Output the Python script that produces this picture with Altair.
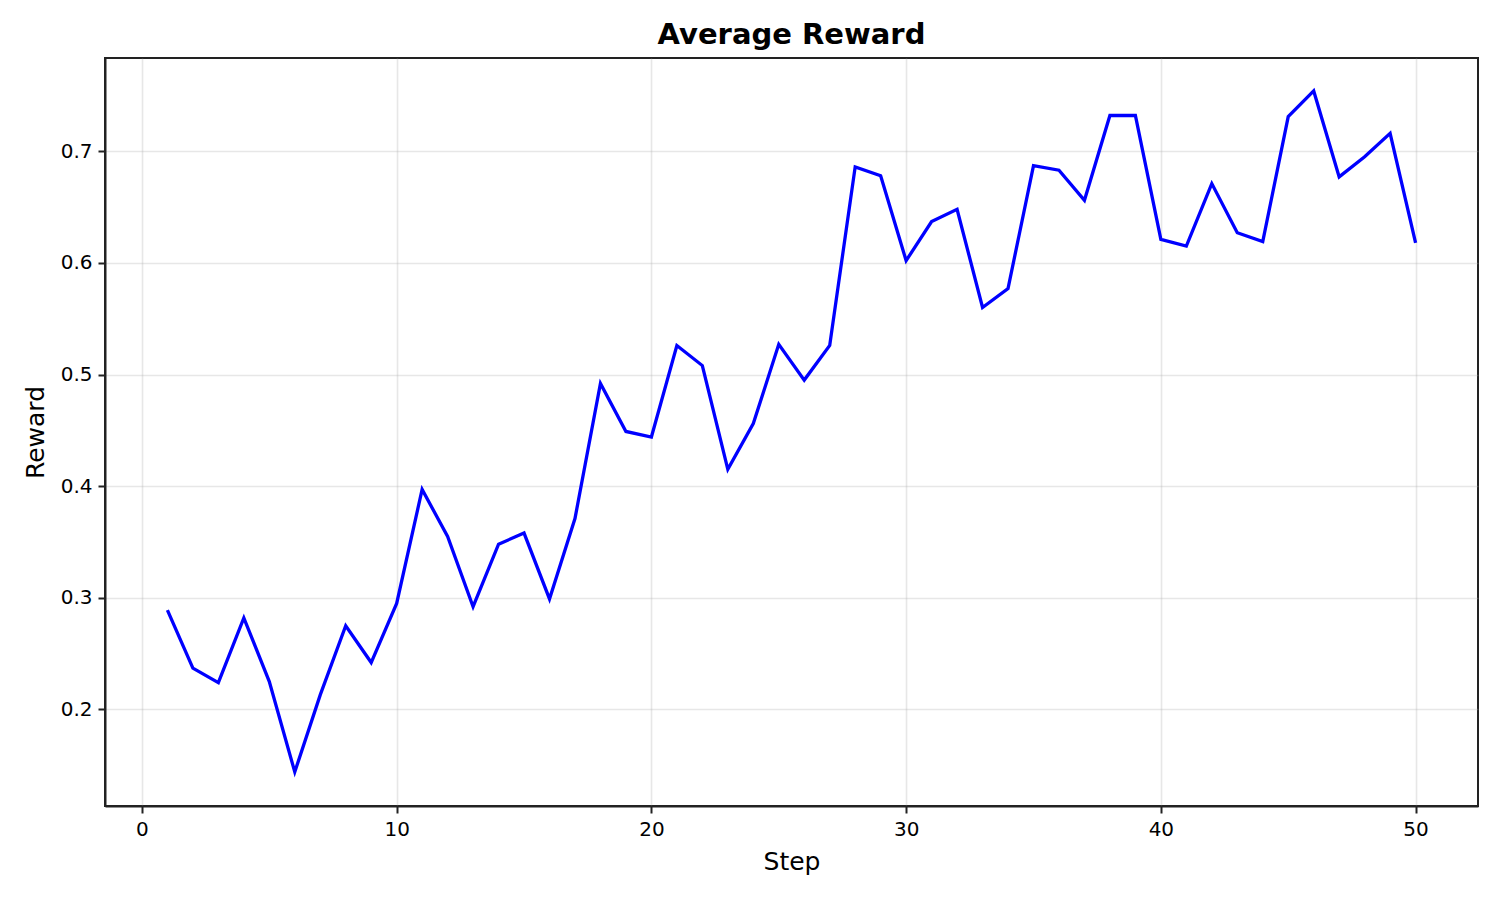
import altair as alt
import pandas as pd

steps = list(range(1, 51))
rewards = [
    0.289, 0.237, 0.224, 0.282, 0.225, 0.144, 0.213, 0.275, 0.242, 0.295,
    0.397, 0.355, 0.292, 0.348, 0.358, 0.299, 0.371, 0.492, 0.449, 0.444,
    0.526, 0.508, 0.415, 0.456, 0.527, 0.495, 0.526, 0.686, 0.678, 0.602,
    0.637, 0.648, 0.560, 0.577, 0.687, 0.683, 0.656, 0.732, 0.732, 0.621,
    0.615, 0.671, 0.627, 0.619, 0.731, 0.754, 0.677, 0.695, 0.716, 0.618,
]
x_ticks = [0, 10, 20, 30, 40, 50]
y_ticks = [0.2, 0.3, 0.4, 0.5, 0.6, 0.7]

df = pd.DataFrame({"Step": steps, "Reward": rewards})

font = "DejaVu Sans"
axis_common = dict(
    labelFont=font, labelFontSize=20, labelColor="black",
    titleFont=font, titleFontSize=25, titleFontWeight="normal", titleColor="black",
    domainColor="#222222", domainWidth=2,
    tickColor="#222222", tickWidth=2, tickSize=7,
    gridColor="#b0b0b0", gridOpacity=0.3, gridWidth=1.6,
    labelPadding=6,
)

chart = alt.Chart(df).mark_line(color="#0000ff", strokeWidth=3.3).encode(
    x=alt.X("Step:Q",
            scale=alt.Scale(domain=[-1.45, 52.45], nice=False, zero=False),
            axis=alt.Axis(values=x_ticks, format="d", title="Step", titlePadding=10, **axis_common)),
    y=alt.Y("Reward:Q",
            scale=alt.Scale(domain=[0.1135, 0.7835], nice=False, zero=False),
            axis=alt.Axis(values=y_ticks, format=".1f", title="Reward", titlePadding=12, **axis_common)),
).properties(
    width=1373, height=748,
    background="white",
    title=alt.TitleParams("Average Reward", font=font, fontSize=29, fontWeight="bold",
                          color="black", offset=8),
    autosize=alt.AutoSizeParams(type="none"),
    padding={"left": 97, "top": 50, "right": 14, "bottom": 86},
).configure_view(stroke="#222222", strokeWidth=2)

chart.save("out.html", embed_options={"renderer": "svg", "actions": False})
